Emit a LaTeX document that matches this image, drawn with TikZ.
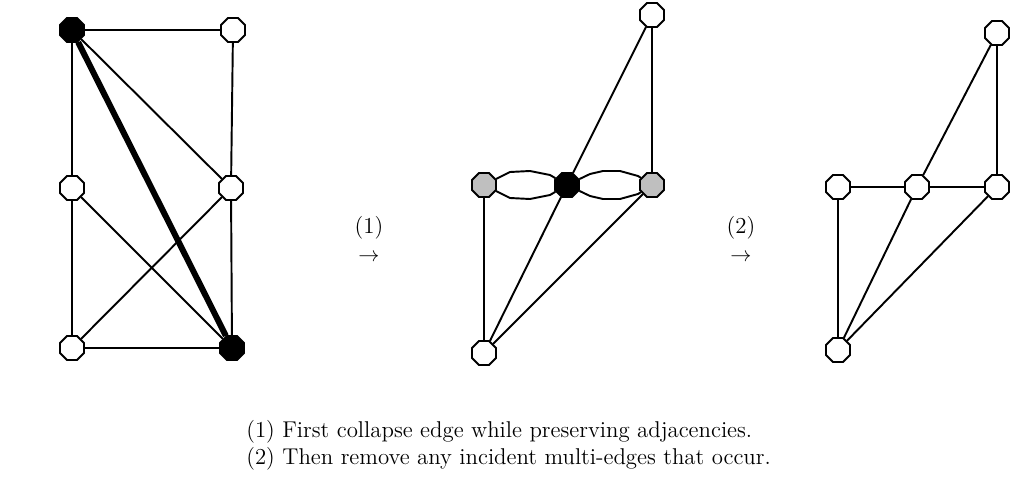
\documentclass[tikz,border=0pt]{standalone}
\usetikzlibrary{shapes.geometric}
\begin{document}
\begin{tikzpicture}[x=0.02cm, y=-0.02cm,
  vtx/.style={regular polygon, regular polygon sides=8, draw, line width=1.1pt, fill=white, minimum size=0.52cm, inner sep=0pt},
  hit/.style={vtx, fill=black},
  mrg/.style={vtx, fill=black!25},
  edge/.style={line width=1.1pt},
  heavy/.style={line width=3.4pt},
  lbl/.style={font=\fontsize{13}{15.5}\selectfont, inner sep=0pt}
]
  \useasboundingbox (0,0) rectangle (1021,482);

  % before: the edge a--f gets collapsed
  \node[hit] (a) at (72,30) {};
  \node[vtx] (b) at (233,30) {};
  \node[vtx] (c) at (72,188) {};
  \node[vtx] (d) at (231,188) {};
  \node[vtx] (e) at (72,348) {};
  \node[hit] (f) at (232,348) {};
  \foreach \u/\v in {a/b,a/c,a/d,b/d,c/e,c/f,d/f,d/e,e/f}
    \draw[edge] (\u) -- (\v);
  \draw[heavy] (a) -- (f);

  \node[lbl] (s1) at (369,228) {(1)};
  \node[lbl] (a1) at (369,258) {$\rightarrow$};

  % after step 1: multi-edges
  \node[vtx] (mt) at (652,15) {};
  \node[mrg] (ml) at (484,185) {};
  \node[hit] (mc) at (567,185) {};
  \node[mrg] (mr) at (652,185) {};
  \node[vtx] (mb) at (484,353) {};
  \foreach \u/\v in {mt/mc,mt/mr,ml/mb,mc/mb,mr/mb}
    \draw[edge] (\u) -- (\v);
  \draw[edge] (ml) -- (510,172) -- (530,171) -- (550,175) -- (mc);
  \draw[edge] (ml) -- (510,198) -- (530,199) -- (550,195) -- (mc);
  \draw[edge] (mc) -- (590,174) -- (603,171) -- (620,171) -- (638,176) -- (mr);
  \draw[edge] (mc) -- (590,196) -- (603,199) -- (620,199) -- (638,194) -- (mr);

  \node[lbl] (s2) at (741,228) {(2)};
  \node[lbl] (a2) at (741,258) {$\rightarrow$};

  % after step 2
  \node[vtx] (rt) at (997,33) {};
  \node[vtx] (rl) at (838,187) {};
  \node[vtx] (rc) at (917,187) {};
  \node[vtx] (rr) at (997,187) {};
  \node[vtx] (rb) at (838,350) {};
  \foreach \u/\v in {rt/rc,rt/rr,rl/rc,rc/rr,rl/rb,rc/rb,rr/rb}
    \draw[edge] (\u) -- (\v);

  \node[lbl, anchor=base west] (n1) at (246,438) {(1) First collapse edge while preserving adjacencies.};
  \node[lbl, anchor=base west] (n2) at (246,465) {(2) Then remove any incident multi-edges that occur.};
\end{tikzpicture}
\end{document}
